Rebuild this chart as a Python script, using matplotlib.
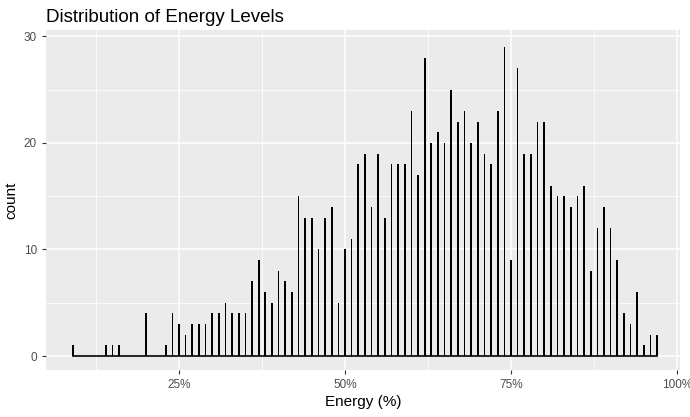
import numpy as np
import matplotlib.pyplot as plt

plt.rcParams['font.family'] = ['Liberation Sans', 'DejaVu Sans']

# energy percent bins (integer %) and counts
energy = list(range(9, 98))
count_map = {
    9: 1, 14: 1, 15: 1, 16: 1, 20: 4, 23: 1, 24: 4, 25: 3, 26: 2, 27: 3, 28: 3,
    29: 3, 30: 4, 31: 4, 32: 5, 33: 4, 34: 4, 35: 4, 36: 7, 37: 9, 38: 6, 39: 5,
    40: 8, 41: 7, 42: 6, 43: 15, 44: 13, 45: 13, 46: 10, 47: 13, 48: 14, 49: 5,
    50: 10, 51: 11, 52: 18, 53: 19, 54: 14, 55: 19, 56: 13, 57: 18, 58: 18,
    59: 18, 60: 23, 61: 17, 62: 28, 63: 20, 64: 21, 65: 20, 66: 25, 67: 22,
    68: 23, 69: 20, 70: 22, 71: 19, 72: 18, 73: 23, 74: 29, 75: 9, 76: 27,
    77: 19, 78: 19, 79: 22, 80: 22, 81: 16, 82: 15, 83: 15, 84: 14, 85: 15,
    86: 16, 87: 8, 88: 12, 89: 14, 90: 12, 91: 9, 92: 4, 93: 3, 94: 6, 95: 1,
    96: 2, 97: 2,
}
counts = [count_map.get(e, 0) for e in energy]
x_ticks = [25, 50, 75, 100]
x_labels = ['25%', '50%', '75%', '100%']
y_ticks = [0, 10, 20, 30]

fig = plt.figure(figsize=(6.9, 4.17), dpi=100)
ax = fig.add_axes([46 / 690, 1 - 370 / 417, 634 / 690, 340 / 417])
ax.set_facecolor('#EBEBEB')

ax.bar(energy, counts, width=0.25, color='black', zorder=3)
ax.plot([min(energy), max(energy)], [0, 0], color='black', lw=1.2, zorder=3)

ax.set_xlim(4.97, 100.45)
ax.set_ylim(-1.31, 30.6)
ax.set_xticks(x_ticks)
ax.set_xticklabels(x_labels)
ax.set_yticks(y_ticks)
ax.set_xticks([12.5, 37.5, 62.5, 87.5], minor=True)
ax.set_yticks([5, 15, 25], minor=True)
ax.grid(which='major', color='white', lw=1.1, zorder=0)
ax.grid(which='minor', color='white', lw=0.55, zorder=0)
for s in ax.spines.values():
    s.set_visible(False)
ax.tick_params(which='major', colors='#333333', labelcolor='#4D4D4D', labelsize=8.5, length=3)
ax.tick_params(which='minor', length=0)

ax.set_xlabel('Energy (%)', fontsize=11, labelpad=3)
ax.set_ylabel('count', fontsize=11, labelpad=4)
fig.text(46 / 690, 1 - 17 / 417, 'Distribution of Energy Levels', fontsize=13.5, va='center', ha='left')

fig.savefig('out.png', dpi=100)
